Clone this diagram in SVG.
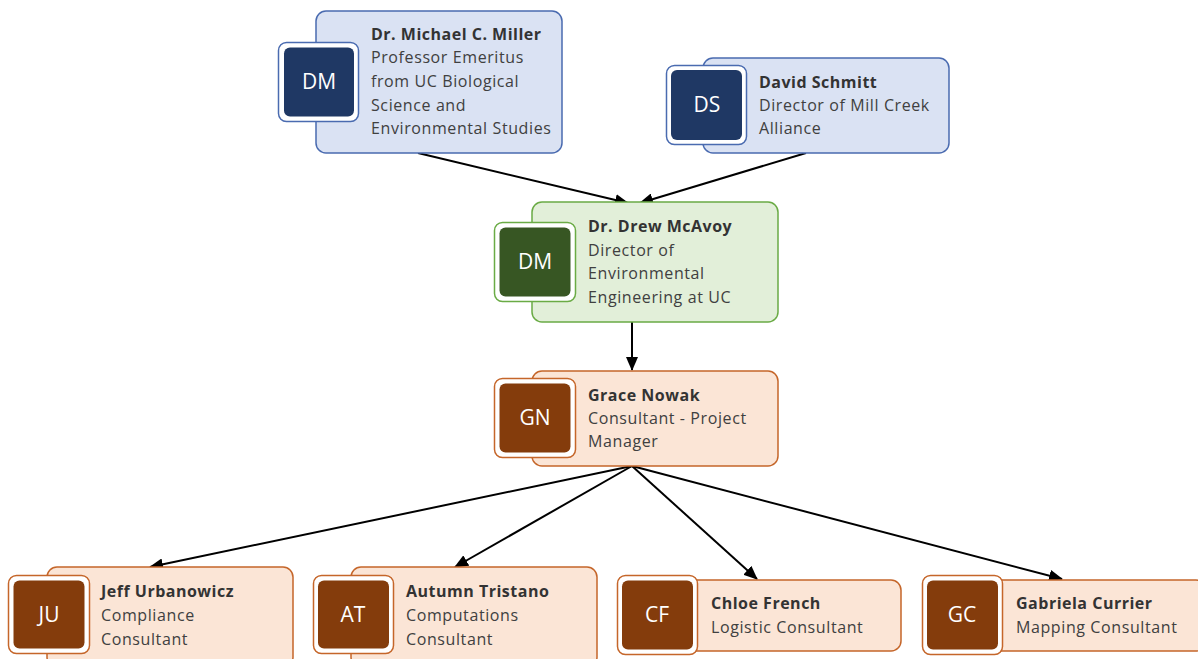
<svg xmlns="http://www.w3.org/2000/svg" width="1198" height="659" viewBox="0 0 1198 659">
<defs>
<marker id="arr" viewBox="0 0 14 12" refX="13" refY="6" markerWidth="14" markerHeight="12" markerUnits="userSpaceOnUse" orient="auto">
<path d="M0,0 L14,6 L0,12 z" fill="#000"/>
</marker>
<style>
.t{font-family:"Open Sans","Liberation Sans",sans-serif;font-size:16px;fill:#404040;letter-spacing:0.6px}
.n{font-weight:bold;fill:#333;letter-spacing:0.5px}
.b{font-family:"Open Sans","Liberation Sans",sans-serif;font-size:21px;fill:#fff;text-anchor:middle}
.cb{fill:#dae2f3;stroke:#4a6bb0;stroke-width:1.5}
.cg{fill:#e2efd9;stroke:#6aab45;stroke-width:1.5}
.co{fill:#fbe5d6;stroke:#c5662a;stroke-width:1.5}
.ob{fill:#fff;stroke:#4a6bb0;stroke-width:1.5}
.og{fill:#fff;stroke:#6aab45;stroke-width:1.5}
.oo{fill:#fff;stroke:#c5662a;stroke-width:1.5}
.ib{fill:#1f3864}
.ig{fill:#375623}
.io{fill:#843c0c}
.c{stroke:#000;stroke-width:2;fill:none;marker-end:url(#arr)}
</style>
</defs>
<rect width="1198" height="659" fill="#fff"/>
<g id="connectors">
<line class="c" x1="418" y1="153" x2="628" y2="203"/>
<line class="c" x1="806" y1="153" x2="640" y2="203"/>
<line class="c" x1="632" y1="322" x2="632" y2="370"/>
<line class="c" x1="632" y1="466" x2="150" y2="567"/>
<line class="c" x1="632" y1="466" x2="455" y2="567"/>
<line class="c" x1="632" y1="466" x2="757" y2="579"/>
<line class="c" x1="632" y1="466" x2="1062" y2="579"/>
</g>
<g id="miller">
<rect class="cb" x="316" y="11" width="246" height="142" rx="10"/>
<rect class="ob" x="278.5" y="42.5" width="80" height="79" rx="8"/>
<rect class="ib" x="284" y="47.5" width="70" height="69" rx="6"/>
<text class="b" x="319" y="89">DM</text>
<text class="t n" x="371" y="40">Dr. Michael C. Miller</text>
<text class="t" x="371" y="63">Professor Emeritus</text>
<text class="t" x="371" y="87">from UC Biological</text>
<text class="t" x="371" y="111">Science and</text>
<text class="t" x="371" y="134">Environmental Studies</text>
</g>
<g id="schmitt">
<rect class="cb" x="703" y="58" width="246" height="95" rx="10"/>
<rect class="ob" x="666.5" y="65.5" width="80" height="79" rx="8"/>
<rect class="ib" x="671" y="70" width="71" height="70" rx="6"/>
<text class="b" x="707" y="112">DS</text>
<text class="t n" x="759" y="88">David Schmitt</text>
<text class="t" x="759" y="111">Director of Mill Creek</text>
<text class="t" x="759" y="134">Alliance</text>
</g>
<g id="mcavoy">
<rect class="cg" x="532" y="202" width="246" height="120" rx="10"/>
<rect class="og" x="494.5" y="222.5" width="81" height="79" rx="8"/>
<rect class="ig" x="499.5" y="227.5" width="71" height="69" rx="6"/>
<text class="b" x="535" y="269">DM</text>
<text class="t n" x="588" y="232">Dr. Drew McAvoy</text>
<text class="t" x="588" y="256">Director of</text>
<text class="t" x="588" y="279">Environmental</text>
<text class="t" x="588" y="303">Engineering at UC</text>
</g>
<g id="nowak">
<rect class="co" x="532" y="371" width="246" height="95" rx="10"/>
<rect class="oo" x="494.5" y="378.5" width="81" height="79" rx="8"/>
<rect class="io" x="499.5" y="383.5" width="71" height="69" rx="6"/>
<text class="b" x="535" y="425">GN</text>
<text class="t n" x="588" y="401">Grace Nowak</text>
<text class="t" x="588" y="424">Consultant - Project</text>
<text class="t" x="588" y="447">Manager</text>
</g>
<g id="urbanowicz">
<rect class="co" x="47" y="567" width="246" height="100" rx="10"/>
<rect class="oo" x="8.5" y="575.5" width="81" height="78" rx="8"/>
<rect class="io" x="13.5" y="580.5" width="71" height="68" rx="6"/>
<text class="b" x="49" y="622">JU</text>
<text class="t n" x="101" y="597">Jeff Urbanowicz</text>
<text class="t" x="101" y="621">Compliance</text>
<text class="t" x="101" y="645">Consultant</text>
</g>
<g id="tristano">
<rect class="co" x="351" y="567" width="246" height="100" rx="10"/>
<rect class="oo" x="313.5" y="575.5" width="80" height="78" rx="8"/>
<rect class="io" x="318" y="580.5" width="71" height="68" rx="6"/>
<text class="b" x="353" y="622">AT</text>
<text class="t n" x="406" y="597">Autumn Tristano</text>
<text class="t" x="406" y="621">Computations</text>
<text class="t" x="406" y="645">Consultant</text>
</g>
<g id="french">
<rect class="co" x="655" y="580" width="246" height="71" rx="10"/>
<rect class="oo" x="617.5" y="575.5" width="80" height="79" rx="8"/>
<rect class="io" x="622" y="580.5" width="71" height="69" rx="6"/>
<text class="b" x="657" y="622">CF</text>
<text class="t n" x="711" y="609">Chloe French</text>
<text class="t" x="711" y="633">Logistic Consultant</text>
</g>
<g id="currier">
<rect class="co" x="960" y="580" width="246" height="71" rx="10"/>
<rect class="oo" x="922.5" y="575.5" width="80" height="79" rx="8"/>
<rect class="io" x="927" y="580.5" width="71" height="69" rx="6"/>
<text class="b" x="962" y="622">GC</text>
<text class="t n" x="1016" y="609">Gabriela Currier</text>
<text class="t" x="1016" y="633">Mapping Consultant</text>
</g>
</svg>
